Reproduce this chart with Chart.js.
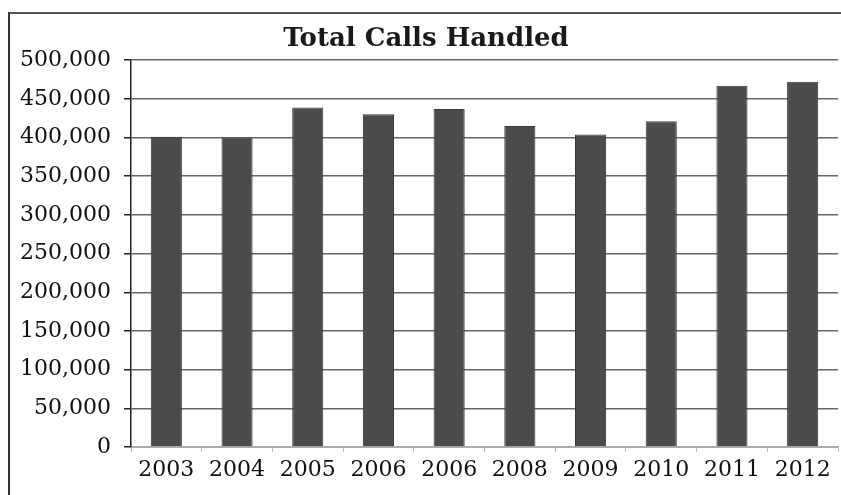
<!DOCTYPE html>
<html>
<head>
<meta charset="utf-8">
<title>Total Calls Handled</title>
<script src="https://cdn.jsdelivr.net/npm/chart.js@4/dist/chart.umd.min.js"></script>
<style>
    html, body { margin: 0; padding: 0; background: #fff; }
    #wrap { position: relative; width: 841px; height: 495px; }
    #frame {
        position: absolute; left: 8px; top: 12px; right: 0; bottom: 0;
        border-top: 2px solid #555; border-left: 2px solid #333;
    }
    canvas { position: absolute; left: 0; top: 0; }
</style>
</head>
<body>
<div id="wrap">
    <div id="frame"></div>
    <canvas id="callsChart" width="841" height="495"></canvas>
</div>
<script>
// === DATA ===
const years = ['2003', '2004', '2005', '2006', '2006', '2008', '2009', '2010', '2011', '2012'];
const callsHandled = [401000, 400000, 439000, 430000, 437000, 415000, 404000, 421000, 467000, 472000];
const yTicks = [0, 50000, 100000, 150000, 200000, 250000, 300000, 350000, 400000, 450000, 500000];

const labelFont = { family: 'DejaVu Serif', size: 22 };

const ctx = document.getElementById('callsChart').getContext('2d');
const chart = new Chart(ctx, {
    type: 'bar',
    data: {
        labels: years,
        datasets: [{
            label: 'Total Calls Handled',
            data: callsHandled,
            backgroundColor: '#4b4b4b',
            borderColor: '#3a3a3a',
            borderWidth: 1,
            categoryPercentage: 1.0,
            barPercentage: 0.44
        }]
    },
    options: {
        responsive: false,
        animation: false,
        layout: {
            padding: { top: 12, right: 3, left: 14, bottom: 0 }
        },
        plugins: {
            legend: { display: false },
            tooltip: { enabled: false },
            title: {
                display: true,
                text: 'Total Calls Handled',
                color: '#1a1a1a',
                font: { family: 'DejaVu Serif', size: 26, weight: 'bold' },
                padding: { top: 12, bottom: 5 }
            }
        },
        scales: {
            x: {
                offset: true,
                border: { display: true, color: '#aaa', width: 1.5 },
                grid: {
                    drawOnChartArea: false,
                    drawTicks: true,
                    tickLength: 5,
                    tickColor: '#bbb',
                    offset: true
                },
                ticks: {
                    color: '#111',
                    font: labelFont,
                    padding: 5,
                    maxRotation: 0,
                    autoSkip: false
                },
                afterFit: function (scale) {
                    scale.height = 48;
                }
            },
            y: {
                min: 0,
                max: yTicks[yTicks.length - 1],
                border: { display: true, color: '#222', width: 1.5 },
                grid: {
                    color: '#666',
                    lineWidth: 1.5,
                    drawTicks: true,
                    tickLength: 7,
                    tickColor: '#222'
                },
                afterBuildTicks: function (scale) {
                    scale.ticks = yTicks.map(v => ({ value: v }));
                },
                ticks: {
                    color: '#111',
                    font: labelFont,
                    padding: 13,
                    callback: function (value) {
                        return value.toLocaleString('en-US');
                    }
                },
                afterFit: function (scale) {
                    scale.width = 117;
                }
            }
        }
    }
});
</script>
</body>
</html>
